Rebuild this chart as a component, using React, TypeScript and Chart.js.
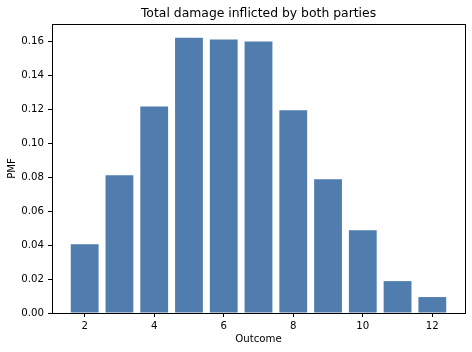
import React, { useEffect, useRef } from "react";
import { Chart, registerables } from "chart.js";

Chart.register(...registerables);

const outcomes = [2, 3, 4, 5, 6, 7, 8, 9, 10, 11, 12];
const pmf = [0.0405, 0.0812, 0.1218, 0.1624, 0.1613, 0.1601, 0.1196, 0.0789, 0.0488, 0.0188, 0.0094];
const xTicks = [2, 4, 6, 8, 10, 12];
const yTicks = [0, 0.02, 0.04, 0.06, 0.08, 0.1, 0.12, 0.14, 0.16];
const titleText = "Total damage inflicted by both parties";
const xLabel = "Outcome";
const yLabel = "PMF";

const FONT = "'DejaVu Sans', sans-serif";
const BAR_COLOR = "rgb(81,124,174)";

const framePlugin = {
  id: "frame",
  afterDraw(chart: any) {
    const { ctx, chartArea } = chart;
    ctx.save();
    ctx.strokeStyle = "#000";
    ctx.lineWidth = 1;
    ctx.strokeRect(
      Math.round(chartArea.left) + 0.5,
      Math.round(chartArea.top) + 0.5,
      Math.round(chartArea.right - chartArea.left),
      Math.round(chartArea.bottom - chartArea.top)
    );
    ctx.restore();
  },
};

export default function App() {
  const ref = useRef<HTMLCanvasElement>(null);
  useEffect(() => {
    if (!ref.current) return;
    const ymax = Math.max(...pmf) * 1.05;
    const chart = new Chart(ref.current, {
      type: "bar",
      data: {
        datasets: [
          {
            data: outcomes.map((x, i) => ({ x, y: pmf[i] })),
            backgroundColor: BAR_COLOR,
            borderWidth: 0,
            barPercentage: 0.8,
            categoryPercentage: 1.0,
          },
        ],
      },
      options: {
        responsive: false,
        animation: false,
        layout: { padding: { left: 0, right: 7, top: 0, bottom: 0 } },
        plugins: {
          legend: { display: false },
          tooltip: { enabled: false },
          title: {
            display: true,
            fullSize: false,
            text: titleText,
            color: "#000",
            font: { family: FONT, size: 12.4, weight: "normal" },
            padding: { top: 6, bottom: 3 },
          },
        },
        scales: {
          x: {
            type: "linear",
            offset: false,
            min: 1.06,
            max: 12.94,
            afterBuildTicks: (s: any) => {
              s.ticks = xTicks.map((v) => ({ value: v }));
            },
            afterFit: (s: any) => {
              s.height = 39;
            },
            ticks: {
              color: "#000",
              font: { family: FONT, size: 10.2 },
              padding: 3,
              maxRotation: 0,
              autoSkip: false,
            },
            grid: {
              display: true,
              offset: false,
              drawOnChartArea: false,
              drawTicks: true,
              tickLength: 4,
              tickColor: "#000",
            },
            border: { display: false },
            title: {
              display: true,
              text: xLabel,
              color: "#000",
              font: { family: FONT, size: 10.2 },
              padding: { top: 0, bottom: 7 },
            },
          },
          y: {
            type: "linear",
            min: 0,
            max: ymax,
            afterBuildTicks: (s: any) => {
              s.ticks = yTicks.map((v) => ({ value: v }));
            },
            afterFit: (s: any) => {
              s.width = 52;
            },
            ticks: {
              color: "#000",
              font: { family: FONT, size: 10.2 },
              padding: 4,
              callback: (v: any) => Number(v).toFixed(2),
              autoSkip: false,
            },
            grid: {
              display: true,
              drawOnChartArea: false,
              drawTicks: true,
              tickLength: 4,
              tickColor: "#000",
            },
            border: { display: false },
            title: {
              display: true,
              text: yLabel,
              color: "#000",
              font: { family: FONT, size: 10.2 },
              padding: { top: 6, bottom: 0 },
            },
          },
        },
      },
      plugins: [framePlugin],
    } as any);
    return () => chart.destroy();
  }, []);
  return (
    <div style={{ position: "absolute", left: 0, top: 0, width: 472, height: 352, background: "#fff" }}>
      <canvas ref={ref} width={472} height={352} style={{ display: "block" }} />
    </div>
  );
}
